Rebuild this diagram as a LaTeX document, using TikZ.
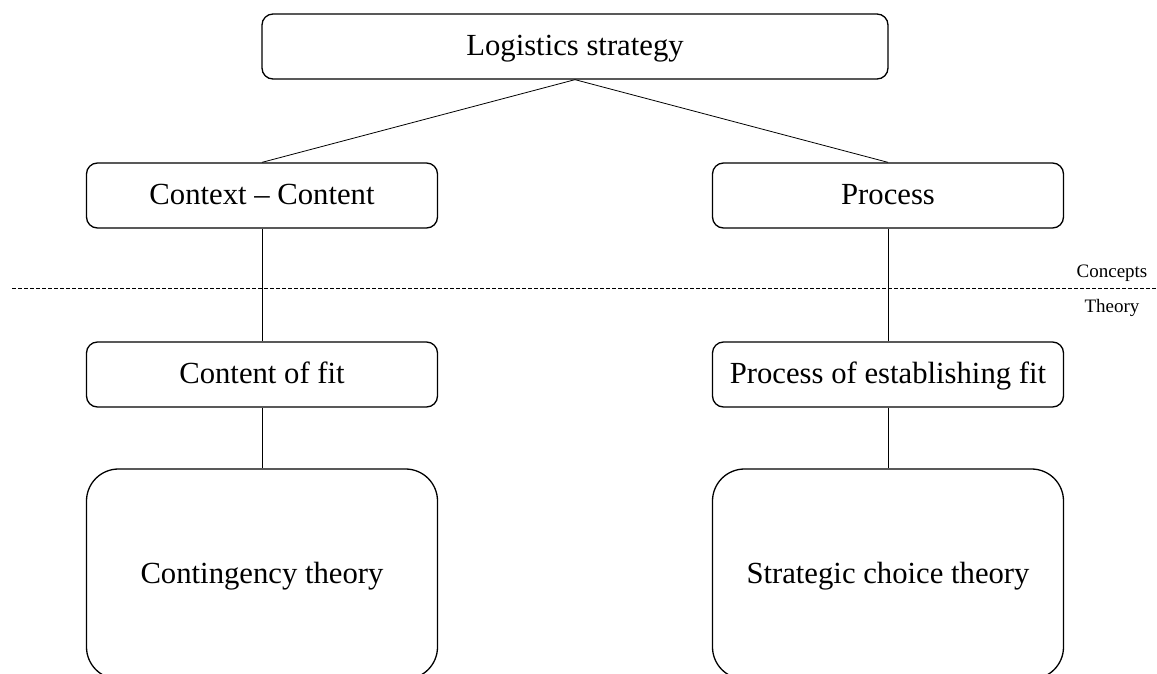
\documentclass[tikz,border=0pt]{standalone}
\usepackage{fontspec}
\setmainfont{Liberation Serif}
\begin{document}
\begin{tikzpicture}[x=1pt,y=-1pt,
  box/.style={draw, line width=1.3pt, rounded corners=11pt, inner sep=0pt,
              minimum height=65pt, minimum width=351pt,
              text height=22pt, text depth=4pt,
              font=\fontsize{30.7}{36}\selectfont},
  bigbox/.style={box, rounded corners=32pt, minimum height=210pt},
  link/.style={line width=0.8pt},
  divider/.style={line width=0.7pt, dash pattern=on 3.5pt off 2.5pt},
  tag/.style={inner sep=0pt, anchor=base, font=\fontsize{19}{22}\selectfont}]
\clip (0,0) rectangle (1157,673);
\useasboundingbox (0,0) rectangle (1157,673);

% hierarchy boxes
\node[box, minimum width=626pt] (top) at (575,46.5) {Logistics strategy};
\node[box] (cc) at (262,195.5) {Context – Content};
\node[box] (pr) at (888,195.5) {Process};
\node[box] (cf) at (262,374.5) {Content of fit};
\node[box] (pf) at (888,374.5) {Process of establishing fit};
\node[bigbox] (ct) at (262,574) {Contingency theory};
\node[bigbox] (sc) at (888,574) {Strategic choice theory};

% connectors
\draw[link] (top.south) -- (cc.north);
\draw[link] (top.south) -- (pr.north);
\draw[link] (cc.south) -- (cf.north);
\draw[link] (pr.south) -- (pf.north);
\draw[link] (cf.south) -- (ct.north);
\draw[link] (pf.south) -- (sc.north);

% concepts / theory divider
\coordinate (dl) at (12,288);
\coordinate (dr) at (1157,288);
\draw[divider] (dl) -- (dr);
\node[tag] (concepts) at (1112,277) {Concepts};
\node[tag] (theory) at (1112,312) {Theory};
\end{tikzpicture}
\end{document}
